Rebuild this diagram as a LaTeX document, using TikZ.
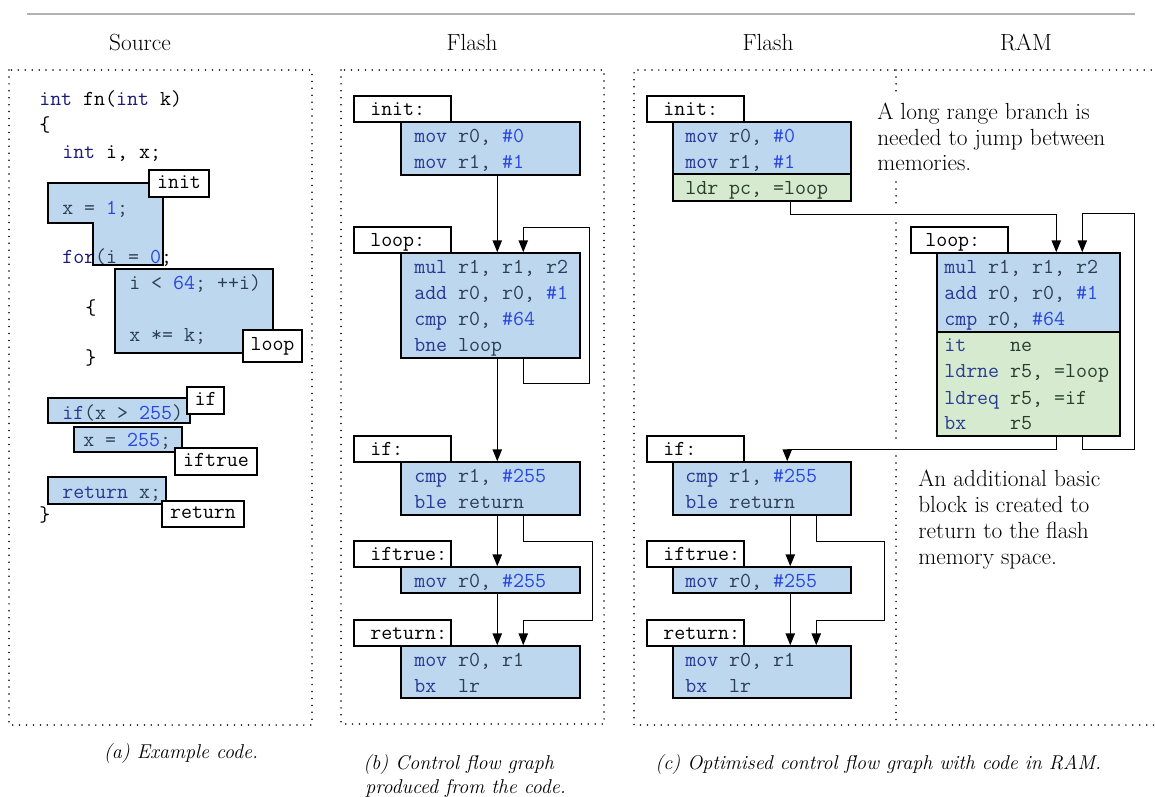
\documentclass[tikz,border=0pt]{standalone}
\usepackage{fontspec}
\usetikzlibrary{arrows.meta,calc,fit}

\definecolor{boxblue}{RGB}{189,215,238}
\definecolor{boxgreen}{RGB}{214,234,208}
\definecolor{rulegray}{RGB}{178,178,178}
\definecolor{kwout}{RGB}{25,25,125}
\definecolor{txtB}{RGB}{45,62,82}
\definecolor{kwB}{RGB}{40,55,150}
\definecolor{numB}{RGB}{40,70,225}
\definecolor{txtG}{RGB}{40,62,45}
\definecolor{kwG}{RGB}{40,60,150}

% syntax colouring for the listings
\newcommand\ckw[1]{\textcolor{kwB}{#1}}
\newcommand\cnum[1]{\textcolor{numB}{#1}}
\newcommand\cgkw[1]{\textcolor{kwG}{#1}}
\newcommand\cokw[1]{\textcolor{kwout}{#1}}
\newcommand\cin[1]{\textcolor{txtB}{#1}}

\begin{document}
\begin{tikzpicture}[x=0.75pt,y=-0.75pt,
  codeln/.style={font=\fontsize{16}{19.5}\selectfont\ttfamily, anchor=base west, inner sep=0pt, text=txtB},
  gcodeln/.style={codeln, text=txtG},
  ocodeln/.style={codeln, text=black},
  serif/.style={font=\fontsize{17.5}{21}\selectfont, anchor=base west, inner sep=0pt},
  captext/.style={font=\fontsize{15}{18}\selectfont\itshape, anchor=base west, inner sep=0pt},
  blk/.style={draw, fill=boxblue, line width=1.1pt, inner sep=0pt},
  gblk/.style={blk, fill=boxgreen},
  tagbox/.style={draw, fill=white, line width=1.1pt, inner sep=0pt,
    font=\fontsize{16}{19.5}\selectfont\ttfamily, text height=10pt, text depth=3pt},
  dotframe/.style={line width=1.3pt, dash pattern=on 0pt off 5.2pt, line cap=round},
  flowarrow/.style={line width=1.1pt, -{Triangle[length=9pt,width=7pt]}},
]
\useasboundingbox (0,0) rectangle (1155,796);

% top rule
\draw[rulegray, line width=1.1pt] (27,14) -- (1135,14);

% column headings
\node[serif, anchor=base] (hsrc) at (140,50) {Source};
\node[serif, anchor=base] (hfl1) at (472,50) {Flash};
\node[serif, anchor=base] (hfl2) at (768,50) {Flash};
\node[serif, anchor=base] (hram) at (1026,50) {RAM};

% dotted frames
\draw[dotframe] (9,70) rectangle (312,725);
\draw[dotframe] (341,70) rectangle (604,724);
\draw[dotframe] (1165,70) -- (634,70) -- (634,725) -- (1165,725);
\draw[dotframe] (896,70) -- (896,92);
\draw[dotframe] (896,182) -- (896,204);
\draw[dotframe] (896,223) -- (896,442);
\draw[dotframe] (896,456) -- (896,725);

% ---------- (a) source code ----------
\fill[boxblue] (48,183) -- (163,183) -- (163,265) -- (93,265) -- (93,223) -- (48,223) -- cycle;
\fill[boxblue] (115,269) rectangle (273,353);
\fill[boxblue] (48,398) rectangle (190,423);
\fill[boxblue] (74,427) rectangle (182,452);
\fill[boxblue] (48,477) rectangle (166,504);

\node[ocodeln] (s1) at (39,105) {\cokw{int} fn(\cokw{int} k)};
\node[ocodeln] (s2) at (39,131) {\{};
\node[ocodeln] (s3) at (62,158) {\cokw{int} i, x;};
\node[ocodeln] (s4) at (62,214) {\cin{x = }\cnum{1}\cin{;}};
\node[ocodeln] (s5) at (62,263) {\cokw{for}\cin{(i = }\cnum{0};};
\node[ocodeln] (s6) at (129,289) {\cin{i < }\cnum{64}\cin{; ++i)}};
\node[ocodeln] (s7) at (85,314) {\{};
\node[ocodeln] (s8) at (129,341) {\cin{x *= k;}};
\node[ocodeln] (s9) at (85,364) {\}};
\node[ocodeln] (s10) at (62,419) {\ckw{if}\cin{(x > }\cnum{255}\cin{)}};
\node[ocodeln] (s11) at (83,446) {\cin{x = }\cnum{255}\cin{;}};
\node[ocodeln] (s12) at (62,498) {\ckw{return} \cin{x;}};
\node[ocodeln] (s13) at (39,521) {\}};

\draw[line width=1.1pt] (48,183) -- (163,183) -- (163,265) -- (93,265) -- (93,223) -- (48,223) -- cycle;
\draw[line width=1.1pt] (115,269) rectangle (273,353);
\draw[line width=1.1pt] (48,398) rectangle (190,423);
\draw[line width=1.1pt] (74,427) rectangle (182,452);
\draw[line width=1.1pt] (48,477) rectangle (166,504);

\node[tagbox, minimum width=60*0.75pt, minimum height=27*0.75pt] (sinit) at (179,183.5) {init};
\node[tagbox, minimum width=59*0.75pt, minimum height=32*0.75pt] (sloop) at (272.5,346) {loop};
\node[tagbox, minimum width=37*0.75pt, minimum height=27*0.75pt] (sif) at (205.5,400.5) {if};
\node[tagbox, minimum width=82*0.75pt, minimum height=27*0.75pt] (strue) at (216,461.5) {iftrue};
\node[tagbox, minimum width=82*0.75pt, minimum height=26*0.75pt] (sret) at (203,514) {return};

% ---------- (b) control flow graph ----------
\node[tagbox, fit={(354,96) (451,122)}] (mil) {};
\node[blk, fit={(401,122) (580,175)}] (mi) {};
\node[tagbox, fit={(354,227) (451,253)}] (mll) {};
\node[blk, fit={(401,253) (580,358)}] (ml) {};
\node[tagbox, fit={(354,436) (451,462)}] (mfl) {};
\node[blk, fit={(401,462) (580,515)}] (mf) {};
\node[tagbox, fit={(354,541) (451,567)}] (mtl) {};
\node[blk, fit={(401,567) (580,593)}] (mt) {};
\node[tagbox, fit={(354,620) (451,646)}] (mrl) {};
\node[blk, fit={(401,646) (580,698)}] (mr) {};

\node[ocodeln] (mil1) at (370,115) {init:};
\node[ocodeln] (mll1) at (370,246) {loop:};
\node[ocodeln] (mfl1) at (370,455) {if:};
\node[ocodeln] (mtl1) at (370,560) {iftrue:};
\node[ocodeln] (mrl1) at (370,639) {return:};

\node[codeln] (mi1) at (414,142) {\ckw{mov} r0, \cnum{\#0}};
\node[codeln] (mi2) at (414,168) {\ckw{mov} r1, \cnum{\#1}};
\node[codeln] (ml1) at (414,273) {\ckw{mul} r1, r1, r2};
\node[codeln] (ml2) at (414,299) {\ckw{add} r0, r0, \cnum{\#1}};
\node[codeln] (ml3) at (414,325) {\ckw{cmp} r0, \cnum{\#64}};
\node[codeln] (ml4) at (414,351) {\ckw{bne} loop};
\node[codeln] (mf1) at (414,482) {\ckw{cmp} r1, \cnum{\#255}};
\node[codeln] (mf2) at (414,508) {\ckw{ble} return};
\node[codeln] (mt1) at (414,587) {\ckw{mov} r0, \cnum{\#255}};
\node[codeln] (mr1) at (414,666) {\ckw{mov} r0, r1};
\node[codeln] (mr2) at (414,692) {\ckw{bx}\ \ lr};

\draw[flowarrow] ($(mi.south west)+(97,0)$) -- ($(ml.north west)+(97,0)$);
\draw[flowarrow] ($(ml.south west)+(123,0)$) -- ++(0,25) -- ++(66,0) -- ++(0,-156) -| ($(ml.north west)+(123,0)$);
\draw[flowarrow] ($(ml.south west)+(97,0)$) -- ($(mf.north west)+(97,0)$);
\draw[flowarrow] ($(mf.south west)+(97,0)$) -- ($(mt.north west)+(97,0)$);
\draw[flowarrow] ($(mf.south west)+(123,0)$) -- ++(0,26) -- ++(69,0) -- ++(0,79) -| ($(mr.north west)+(123,0)$);
\draw[flowarrow] ($(mt.south west)+(97,0)$) -- ($(mr.north west)+(97,0)$);

% ---------- (c) optimised graph, flash and RAM ----------
\node[tagbox, fit={(647,96) (744,122)}] (ril) {};
\node[blk, fit={(673,122) (851,174)}] (ri) {};
\node[gblk, fit={(673,174) (851,201)}] (rg) {};
\node[tagbox, fit={(911,227) (1008,253)}] (rll) {};
\node[blk, fit={(937,253) (1120,332)}] (rl) {};
\node[gblk, fit={(937,332) (1120,436)}] (rlg) {};
\node[tagbox, fit={(647,436) (744,462)}] (rfl) {};
\node[blk, fit={(673,462) (851,515)}] (rf) {};
\node[tagbox, fit={(647,541) (744,567)}] (rtl) {};
\node[blk, fit={(673,567) (851,593)}] (rt) {};
\node[tagbox, fit={(647,620) (744,646)}] (rrl) {};
\node[blk, fit={(673,646) (851,698)}] (rr) {};

\node[ocodeln] (ril1) at (663,115) {init:};
\node[ocodeln] (rll1) at (925,246) {loop:};
\node[ocodeln] (rfl1) at (663,455) {if:};
\node[ocodeln] (rtl1) at (663,560) {iftrue:};
\node[ocodeln] (rrl1) at (663,639) {return:};

\node[codeln] (ri1) at (685,142) {\ckw{mov} r0, \cnum{\#0}};
\node[codeln] (ri2) at (685,168) {\ckw{mov} r1, \cnum{\#1}};
\node[gcodeln] (rg1) at (685,194) {ldr pc, =loop};
\node[codeln] (rl1) at (944,273) {\ckw{mul} r1, r1, r2};
\node[codeln] (rl2) at (944,299) {\ckw{add} r0, r0, \cnum{\#1}};
\node[codeln] (rl3) at (944,325) {\ckw{cmp} r0, \cnum{\#64}};
\node[gcodeln] (rlg1) at (944,351) {\cgkw{it}\ \ \ \ ne};
\node[gcodeln] (rlg2) at (944,377) {\cgkw{ldrne} r5, =loop};
\node[gcodeln] (rlg3) at (944,404) {\cgkw{ldreq} r5, =if};
\node[gcodeln] (rlg4) at (944,429) {\cgkw{bx}\ \ \ \ r5};
\node[codeln] (rf1) at (685,482) {\ckw{cmp} r1, \cnum{\#255}};
\node[codeln] (rf2) at (685,508) {\ckw{ble} return};
\node[codeln] (rt1) at (685,587) {\ckw{mov} r0, \cnum{\#255}};
\node[codeln] (rr1) at (685,666) {\ckw{mov} r0, r1};
\node[codeln] (rr2) at (685,692) {\ckw{bx}\ \ lr};

\draw[flowarrow] ($(rg.south west)+(118,0)$) -- ++(0,13) -| ($(rl.north west)+(120,0)$);
\draw[flowarrow] ($(rlg.south west)+(146,0)$) -- ++(0,13) -- ++(52,0) -- ++(0,-236) -| ($(rl.north west)+(146,0)$);
\draw[flowarrow] ($(rlg.south west)+(120,0)$) -- ++(0,13) -| ($(rf.north west)+(115,0)$);
\draw[flowarrow] ($(rf.south west)+(118,0)$) -- ($(rt.north west)+(118,0)$);
\draw[flowarrow] ($(rf.south west)+(144,0)$) -- ++(0,26) -- ++(68,0) -- ++(0,79) -| ($(rr.north west)+(144,0)$);
\draw[flowarrow] ($(rt.south west)+(118,0)$) -- ($(rr.north west)+(118,0)$);

% notes
\node[serif] (na1) at (877,119) {A long range branch is};
\node[serif] (na2) at (877,145) {needed to jump between};
\node[serif] (na3) at (877,170) {memories.};
\node[serif] (nb1) at (918,486) {An additional basic};
\node[serif] (nb2) at (918,512) {block is created to};
\node[serif] (nb3) at (918,538) {return to the flash};
\node[serif] (nb4) at (918,564) {memory space.};

% captions
\node[captext, anchor=base] (capa) at (181,758) {(a) Example code.};
\node[captext] (capb1) at (363,769) {(b) Control flow graph};
\node[captext] (capb2) at (365,793) {produced from the code.};
\node[captext] (capc) at (655,769) {(c) Optimised control flow graph with code in RAM.};
\end{tikzpicture}
\end{document}
